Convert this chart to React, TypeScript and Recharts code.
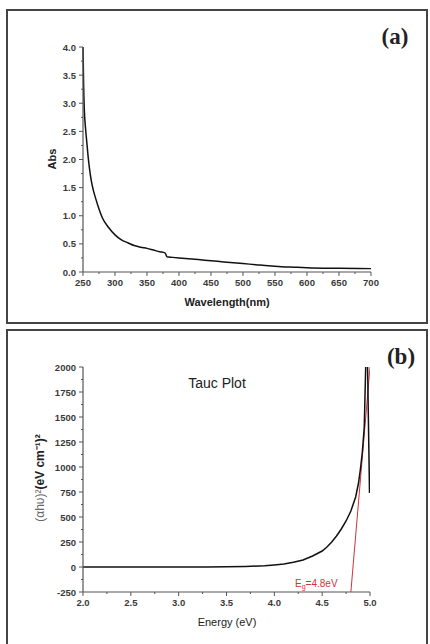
import React from 'react';
import { LineChart, Line, XAxis, YAxis } from 'recharts';

// panel (a): UV-vis absorbance
const wavelength = [250, 251, 252, 254, 256, 258, 260, 263, 266, 270, 275, 280, 290, 300, 310, 320, 330, 340, 350, 360, 370, 378, 380, 381, 390, 400, 420, 440, 460, 480, 500, 520, 540, 560, 580, 600, 650, 700];
const absorbance = [4.0, 3.3, 2.9, 2.55, 2.3, 2.05, 1.85, 1.62, 1.46, 1.3, 1.12, 0.97, 0.79, 0.66, 0.57, 0.52, 0.47, 0.44, 0.42, 0.39, 0.36, 0.34, 0.3, 0.27, 0.26, 0.25, 0.23, 0.21, 0.19, 0.17, 0.15, 0.13, 0.11, 0.095, 0.085, 0.075, 0.065, 0.06];
const wlTicks = [250, 275, 300, 325, 350, 375, 400, 425, 450, 475, 500, 525, 550, 575, 600, 625, 650, 675, 700];
const absTicks = [0, 0.25, 0.5, 0.75, 1, 1.25, 1.5, 1.75, 2, 2.25, 2.5, 2.75, 3, 3.25, 3.5, 3.75, 4];

// panel (b): Tauc plot
const energy = [2.0, 2.5, 3.0, 3.3, 3.5, 3.7, 3.9, 4.0, 4.1, 4.2, 4.3, 4.4, 4.5, 4.55, 4.6, 4.65, 4.7, 4.75, 4.8, 4.85, 4.88, 4.9, 4.92, 4.94, 4.955, 4.97, 4.995];
const tauc = [0, 0, 0, 1, 3, 6, 12, 20, 30, 48, 70, 110, 160, 200, 250, 310, 380, 460, 560, 700, 840, 980, 1150, 1400, 2000, 2300, 740];
const fitEnergy = [4.8, 5.0];
const fitTauc = [-250, 2000];
const evTicks = [2, 2.25, 2.5, 2.75, 3, 3.25, 3.5, 3.75, 4, 4.25, 4.5, 4.75, 5];
const taucTicks = [-250, -125, 0, 125, 250, 375, 500, 625, 750, 875, 1000, 1125, 1250, 1375, 1500, 1625, 1750, 1875, 2000];

const absData = wavelength.map((w, i) => ({ x: w, y: absorbance[i] }));
const taucData = energy.map((e, i) => ({ x: e, y: tauc[i] }));
const fitData = fitEnergy.map((e, i) => ({ x: e, y: fitTauc[i] }));

const FONT = '"Liberation Sans", Arial, sans-serif';
const AXIS = '#555';

const AxisTick = (props: any) => {
  const { x, y, payload, side, isMajor, fmt } = props;
  const v = payload.value;
  const major = isMajor(v);
  const len = major ? 4 : 2;
  const label = major ? fmt(v) : null;
  if (side === 'bottom') {
    return (
      <g>
        <line x1={x} x2={x} y1={y} y2={y + len} stroke={AXIS} strokeWidth={1} />
        {label && (
          <text x={x} y={y + 14} textAnchor="middle" fontSize={9.5} fontWeight="bold" fill="#3a3a3a" fontFamily={FONT}>
            {label}
          </text>
        )}
      </g>
    );
  }
  return (
    <g>
      <line x1={x} x2={x - len} y1={y} y2={y} stroke={AXIS} strokeWidth={1} />
      {label && (
        <text x={x - 7} y={y + 3.5} textAnchor="end" fontSize={9.5} fontWeight="bold" fill="#3a3a3a" fontFamily={FONT}>
          {label}
        </text>
      )}
    </g>
  );
};

const isHalf = (v: number) => Math.abs(v * 2 - Math.round(v * 2)) < 1e-6;

const Frame = ({ top, height }: { top: number; height: number }) => (
  <div style={{ position: 'absolute', left: 6, top, width: 422, height, border: '2px solid #444', boxSizing: 'border-box' }} />
);

export default function App() {
  return (
    <div style={{ position: 'absolute', left: 0, top: 0, width: 430, height: 644, overflow: 'hidden', background: '#fff' }}>
      <Frame top={9} height={315} />
      <Frame top={329} height={330} />

      <div style={{ position: 'absolute', left: 0, top: 0 }}>
        <LineChart width={430} height={323} data={absData} margin={{ top: 47, right: 59, bottom: 21, left: 43 }}>
          <XAxis
            dataKey="x"
            type="number"
            domain={[250, 700]}
            ticks={wlTicks}
            interval={0}
            tickSize={0}
            tickMargin={0}
            height={30}
            stroke={AXIS}
            strokeWidth={1.2}
            tick={(p: any) => <AxisTick {...p} side="bottom" isMajor={(v: number) => v % 50 === 0} fmt={(v: number) => String(v)} />}
          />
          <YAxis
            type="number"
            domain={[0, 4]}
            ticks={absTicks}
            interval={0}
            tickSize={0}
            tickMargin={0}
            width={40}
            stroke={AXIS}
            strokeWidth={1.2}
            tick={(p: any) => <AxisTick {...p} side="left" isMajor={isHalf} fmt={(v: number) => v.toFixed(1)} />}
          />
          <Line dataKey="y" type="monotone" stroke="#111" strokeWidth={1.5} dot={false} isAnimationActive={false} />
        </LineChart>
      </div>

      <div style={{ position: 'absolute', left: 0, top: 320 }}>
        <LineChart width={430} height={324} margin={{ top: 47, right: 60, bottom: 22, left: 43 }}>
          <XAxis
            dataKey="x"
            type="number"
            domain={[2, 5]}
            ticks={evTicks}
            interval={0}
            tickSize={0}
            tickMargin={0}
            height={30}
            stroke={AXIS}
            strokeWidth={1.2}
            allowDataOverflow
            tick={(p: any) => <AxisTick {...p} side="bottom" isMajor={isHalf} fmt={(v: number) => v.toFixed(1)} />}
          />
          <YAxis
            type="number"
            domain={[-250, 2000]}
            ticks={taucTicks}
            interval={0}
            tickSize={0}
            tickMargin={0}
            width={40}
            stroke={AXIS}
            strokeWidth={1.2}
            allowDataOverflow
            tick={(p: any) => <AxisTick {...p} side="left" isMajor={(v: number) => v % 250 === 0} fmt={(v: number) => String(v)} />}
          />
          <Line data={fitData} dataKey="y" type="linear" stroke="#d0333a" strokeWidth={1} dot={false} isAnimationActive={false} />
          <Line data={taucData} dataKey="y" type="linear" stroke="#111" strokeWidth={1.5} dot={false} isAnimationActive={false} />
        </LineChart>
      </div>

      <svg width={430} height={644} style={{ position: 'absolute', left: 0, top: 0, pointerEvents: 'none' }}>
        <text x={395} y={44} textAnchor="middle" fontSize={23} fontWeight="bold" fontFamily='"Liberation Serif", "Times New Roman", serif' fill="#222">(a)</text>
        <text x={227} y={306} textAnchor="middle" fontSize={11} fontWeight="bold" fontFamily={FONT} fill="#222">Wavelength(nm)</text>
        <text x={56} y={159} textAnchor="middle" fontSize={11} fontWeight="bold" fontFamily={FONT} fill="#222" transform="rotate(-90, 56, 159)">Abs</text>

        <text x={401} y={364} textAnchor="middle" fontSize={23} fontWeight="bold" fontFamily='"Liberation Serif", "Times New Roman", serif' fill="#222">(b)</text>
        <text x={217} y={388} textAnchor="middle" fontSize={14} fontFamily={FONT} fill="#222">Tauc Plot</text>
        <text x={227} y={626} textAnchor="middle" fontSize={11} fontFamily={FONT} fill="#222">Energy (eV)</text>
        <text x={44} y={478} textAnchor="middle" fontSize={12} fontFamily={FONT} fill="#222" transform="rotate(-90, 44, 478)">
          <tspan fill="#666">(αhυ)²</tspan>
          <tspan fontWeight="bold">(eV cm⁻¹)²</tspan>
        </text>
        <text x={295} y={587} fontSize={10} fontFamily={FONT} fill="#d0333a">
          E<tspan fontSize={7} dy={2}>g</tspan><tspan dy={-2}>=4.8eV</tspan>
        </text>
      </svg>
    </div>
  );
}
